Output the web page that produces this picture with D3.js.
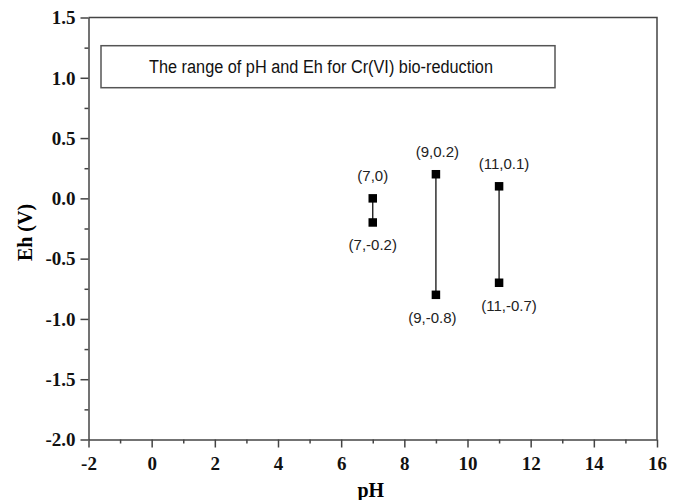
<!DOCTYPE html>
<html>
<head>
<meta charset="utf-8">
<script src="https://cdn.jsdelivr.net/npm/d3@7"></script>
<style>
  body { margin: 0; background: #fff; }
</style>
</head>
<body>
<div id="chart"></div>
<script>
// pH / Eh ranges
const phValues = [7, 9, 11];
const ehHigh = [0, 0.2, 0.1];
const ehLow = [-0.2, -0.8, -0.7];
const xTicks = [-2, 0, 2, 4, 6, 8, 10, 12, 14, 16];
const yTicks = [-2.0, -1.5, -1.0, -0.5, 0.0, 0.5, 1.0, 1.5];
const titleText = "The range of pH and Eh for Cr(VI) bio-reduction";

// set the dimensions and margins of the graph
const margin = {top: 17.5, right: 22, bottom: 60.5, left: 88.5},
    width = 679 - margin.left - margin.right,
    height = 500 - margin.top - margin.bottom;

let svg = d3.select("#chart")
    .append("svg")
    .attr("width", 679)
    .attr("height", 500);

let g = svg.append("g")
    .attr("transform", "translate(" + margin.left + "," + margin.top + ")");

const x = d3.scaleLinear().domain([-2, 16]).range([0, width]);
const y = d3.scaleLinear().domain([-2, 1.5]).range([height, 0]);

const axisColor = "#444";
const serif = "'Liberation Serif', 'Times New Roman', serif";

// frame (top and right, no ticks)
g.append("path")
    .attr("d", "M0,0H" + width + "V" + height)
    .attr("fill", "none")
    .attr("stroke", axisColor)
    .attr("stroke-width", 1.5);

// minor ticks
const xMinor = d3.range(-1, 16, 2);
const yMinor = d3.range(-1.75, 1.5, 0.5);

g.append("g")
    .attr("transform", "translate(0," + height + ")")
    .call(d3.axisBottom(x).tickValues(xMinor).tickSize(4).tickFormat(""))
    .call(a => a.select(".domain").remove())
    .selectAll("line").attr("stroke", axisColor).attr("stroke-width", 1.5);

g.append("g")
    .call(d3.axisLeft(y).tickValues(yMinor).tickSize(4).tickFormat(""))
    .call(a => a.select(".domain").remove())
    .selectAll("line").attr("stroke", axisColor).attr("stroke-width", 1.5);

// major axes (plain hyphen for negatives, like the original)
let xAxis = g.append("g")
    .attr("transform", "translate(0," + height + ")")
    .call(d3.axisBottom(x).tickValues(xTicks).tickSize(8).tickSizeOuter(0).tickPadding(9)
        .tickFormat(d => String(d)));

let yAxis = g.append("g")
    .call(d3.axisLeft(y).tickValues(yTicks).tickSize(8).tickSizeOuter(0).tickPadding(5)
        .tickFormat(d => d.toFixed(1)));

[xAxis, yAxis].forEach(a => {
    a.select(".domain").attr("stroke", axisColor).attr("stroke-width", 1.5);
    a.selectAll(".tick line").attr("stroke", axisColor).attr("stroke-width", 1.5);
    a.selectAll(".tick text")
        .attr("font-family", serif)
        .attr("font-weight", "bold")
        .attr("font-size", 19)
        .attr("fill", "#111");
});
yAxis.selectAll(".tick text").attr("dy", "0.33em");

// axis titles
svg.append("text")
    .attr("x", margin.left + width / 2 - 2)
    .attr("y", 497)
    .attr("text-anchor", "middle")
    .style("font-family", serif)
    .style("font-weight", "bold")
    .style("font-size", "20px")
    .text("pH");

svg.append("text")
    .attr("transform", "translate(32," + (margin.top + height / 2 + 4) + ") rotate(-90)")
    .attr("text-anchor", "middle")
    .style("font-family", serif)
    .style("font-weight", "bold")
    .style("font-size", "20px")
    .text("Eh (V)");

// title box
const box = {x: 101 - margin.left, y: 45.7 - margin.top, w: 454, h: 42};
g.append("rect")
    .attr("x", box.x).attr("y", box.y)
    .attr("width", box.w).attr("height", box.h)
    .attr("fill", "#fff")
    .attr("stroke", "#555")
    .attr("stroke-width", 1.5);
g.append("text")
    .attr("x", box.x + box.w / 2 - 7)
    .attr("y", box.y + 27)
    .attr("text-anchor", "middle")
    .attr("textLength", 344)
    .attr("lengthAdjust", "spacingAndGlyphs")
    .style("font-family", "'Liberation Sans', Arial, sans-serif")
    .style("font-size", "18px")
    .style("fill", "#111")
    .text(titleText);

// range lines
const ranges = phValues.map((p, i) => ({ph: p, hi: ehHigh[i], lo: ehLow[i]}));

g.selectAll(".range")
    .data(ranges)
    .enter().append("line")
    .attr("x1", d => x(d.ph)).attr("x2", d => x(d.ph))
    .attr("y1", d => y(d.hi)).attr("y2", d => y(d.lo))
    .attr("stroke", "#111")
    .attr("stroke-width", 1.3);

// points
const pts = [];
ranges.forEach(d => {
    pts.push({ph: d.ph, eh: d.hi, pos: "top"});
    pts.push({ph: d.ph, eh: d.lo, pos: "bottom"});
});

const sq = 8.5;
g.selectAll(".pt")
    .data(pts)
    .enter().append("rect")
    .attr("x", d => x(d.ph) - sq / 2)
    .attr("y", d => y(d.eh) - sq / 2)
    .attr("width", sq).attr("height", sq)
    .attr("fill", "#000");

// point labels
const labelNudge = [0, 0, 1.5, -3.5, 5, 10];
g.selectAll(".lbl")
    .data(pts)
    .enter().append("text")
    .attr("x", (d, i) => x(d.ph) + labelNudge[i])
    .attr("y", d => y(d.eh) + (d.pos === "top" ? -17 : 28))
    .attr("text-anchor", "middle")
    .style("font-family", "'Liberation Sans', Arial, sans-serif")
    .style("font-size", "15px")
    .style("fill", "#222")
    .text(d => "(" + d.ph + "," + d.eh + ")");
</script>
</body>
</html>
